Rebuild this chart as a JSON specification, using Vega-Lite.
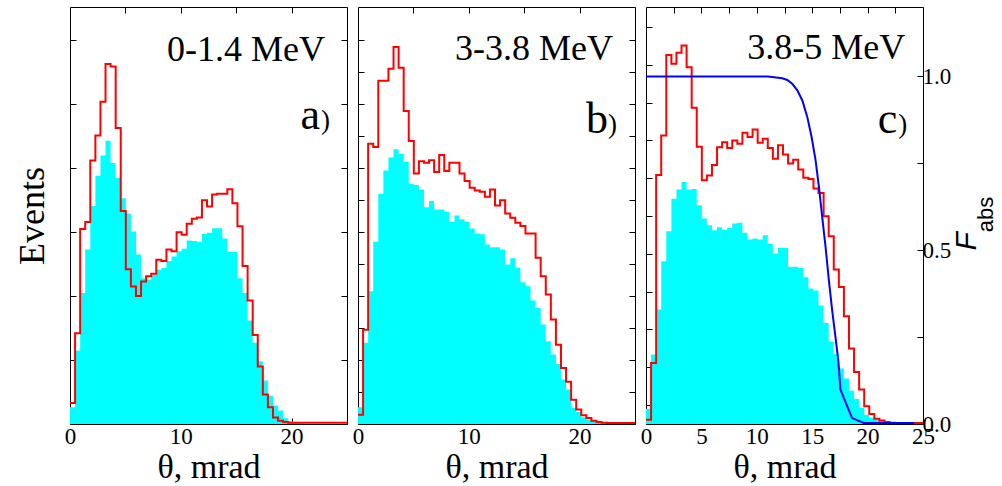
{
  "$schema": "https://vega.github.io/schema/vega-lite/v6.json",
  "padding": {"left": 14, "top": 6, "right": 0, "bottom": 0},
  "background": "white",
  "spacing": 11,
  "bounds": "flush",
  "datasets": {
    "a": [
      {"theta": 0, "cyan": 26, "red": 33}, {"theta": 0.458, "cyan": 115, "red": 142}, {"theta": 0.916, "cyan": 205, "red": 305}, {"theta": 1.374, "cyan": 273, "red": 316},
      {"theta": 1.832, "cyan": 341, "red": 412}, {"theta": 2.29, "cyan": 388, "red": 451}, {"theta": 2.748, "cyan": 420, "red": 504}, {"theta": 3.206, "cyan": 443, "red": 563},
      {"theta": 3.664, "cyan": 408, "red": 559}, {"theta": 4.122, "cyan": 385, "red": 463}, {"theta": 4.58, "cyan": 353, "red": 333}, {"theta": 5.038, "cyan": 329, "red": 242},
      {"theta": 5.496, "cyan": 301, "red": 215}, {"theta": 5.954, "cyan": 265, "red": 200}, {"theta": 6.412, "cyan": 228, "red": 223}, {"theta": 6.87, "cyan": 226, "red": 231},
      {"theta": 7.328, "cyan": 233, "red": 235}, {"theta": 7.786, "cyan": 241, "red": 257}, {"theta": 8.244, "cyan": 244, "red": 255}, {"theta": 8.702, "cyan": 255, "red": 273},
      {"theta": 9.16, "cyan": 262, "red": 270}, {"theta": 9.618, "cyan": 270, "red": 300}, {"theta": 10.076, "cyan": 274, "red": 296}, {"theta": 10.534, "cyan": 287, "red": 313},
      {"theta": 10.992, "cyan": 286, "red": 321}, {"theta": 11.45, "cyan": 285, "red": 323}, {"theta": 11.908, "cyan": 297, "red": 350}, {"theta": 12.366, "cyan": 299, "red": 340},
      {"theta": 12.824, "cyan": 306, "red": 359}, {"theta": 13.282, "cyan": 306, "red": 360}, {"theta": 13.74, "cyan": 290, "red": 360}, {"theta": 14.198, "cyan": 269, "red": 367},
      {"theta": 14.656, "cyan": 269, "red": 345}, {"theta": 15.114, "cyan": 228, "red": 309}, {"theta": 15.572, "cyan": 205, "red": 247}, {"theta": 16.03, "cyan": 162, "red": 193},
      {"theta": 16.488, "cyan": 127, "red": 139}, {"theta": 16.946, "cyan": 98, "red": 90}, {"theta": 17.404, "cyan": 68, "red": 46}, {"theta": 17.862, "cyan": 44, "red": 26},
      {"theta": 18.32, "cyan": 29, "red": 10}, {"theta": 18.778, "cyan": 21, "red": 5}, {"theta": 19.236, "cyan": 9, "red": 3}, {"theta": 19.694, "cyan": 4, "red": 2},
      {"theta": 20.152, "cyan": 2, "red": 2}, {"theta": 20.61, "cyan": 1, "red": 2}, {"theta": 21.068, "cyan": 0, "red": 2}, {"theta": 21.526, "cyan": 0, "red": 2},
      {"theta": 21.984, "cyan": 0, "red": 2}, {"theta": 22.442, "cyan": 0, "red": 2}, {"theta": 22.9, "cyan": 0, "red": 2}, {"theta": 23.358, "cyan": 0, "red": 2},
      {"theta": 23.816, "cyan": 0, "red": 2}, {"theta": 24.274, "cyan": 0, "red": 2}, {"theta": 24.732, "cyan": 0, "red": 2}, {"theta": 25, "cyan": 0, "red": 2}
    ],
    "b": [
      {"theta": 0, "cyan": 52, "red": 29}, {"theta": 0.458, "cyan": 254, "red": 295}, {"theta": 0.916, "cyan": 415, "red": 876}, {"theta": 1.374, "cyan": 570, "red": 866},
      {"theta": 1.832, "cyan": 720, "red": 1073}, {"theta": 2.29, "cyan": 793, "red": 1073}, {"theta": 2.748, "cyan": 833, "red": 1111}, {"theta": 3.206, "cyan": 859, "red": 1179},
      {"theta": 3.664, "cyan": 845, "red": 1114}, {"theta": 4.122, "cyan": 820, "red": 979}, {"theta": 4.58, "cyan": 751, "red": 885}, {"theta": 5.038, "cyan": 747, "red": 783},
      {"theta": 5.496, "cyan": 733, "red": 822}, {"theta": 5.954, "cyan": 678, "red": 817}, {"theta": 6.412, "cyan": 697, "red": 825}, {"theta": 6.87, "cyan": 671, "red": 788},
      {"theta": 7.328, "cyan": 671, "red": 841}, {"theta": 7.786, "cyan": 664, "red": 791}, {"theta": 8.244, "cyan": 632, "red": 817}, {"theta": 8.702, "cyan": 652, "red": 817},
      {"theta": 9.16, "cyan": 640, "red": 783}, {"theta": 9.618, "cyan": 632, "red": 760}, {"theta": 10.076, "cyan": 611, "red": 739}, {"theta": 10.534, "cyan": 596, "red": 730},
      {"theta": 10.992, "cyan": 593, "red": 726}, {"theta": 11.45, "cyan": 561, "red": 711}, {"theta": 11.908, "cyan": 553, "red": 733}, {"theta": 12.366, "cyan": 553, "red": 683},
      {"theta": 12.824, "cyan": 546, "red": 700}, {"theta": 13.282, "cyan": 499, "red": 658}, {"theta": 13.74, "cyan": 518, "red": 645}, {"theta": 14.198, "cyan": 488, "red": 629},
      {"theta": 14.656, "cyan": 443, "red": 619}, {"theta": 15.114, "cyan": 431, "red": 596}, {"theta": 15.572, "cyan": 386, "red": 596}, {"theta": 16.03, "cyan": 363, "red": 520},
      {"theta": 16.488, "cyan": 311, "red": 462}, {"theta": 16.946, "cyan": 259, "red": 405}, {"theta": 17.404, "cyan": 217, "red": 327}, {"theta": 17.862, "cyan": 188, "red": 248},
      {"theta": 18.32, "cyan": 139, "red": 175}, {"theta": 18.778, "cyan": 108, "red": 132}, {"theta": 19.236, "cyan": 50, "red": 76}, {"theta": 19.694, "cyan": 38, "red": 45},
      {"theta": 20.152, "cyan": 21, "red": 27}, {"theta": 20.61, "cyan": 14, "red": 19}, {"theta": 21.068, "cyan": 10, "red": 10}, {"theta": 21.526, "cyan": 8, "red": 6},
      {"theta": 21.984, "cyan": 6, "red": 4}, {"theta": 22.442, "cyan": 6, "red": 3}, {"theta": 22.9, "cyan": 5, "red": 3}, {"theta": 23.358, "cyan": 4, "red": 3},
      {"theta": 23.816, "cyan": 3, "red": 3}, {"theta": 24.274, "cyan": 2, "red": 3}, {"theta": 24.732, "cyan": 0, "red": 3}, {"theta": 25, "cyan": 0, "red": 3}
    ],
    "c": [
      {"theta": 0, "cyan": 81, "red": 23}, {"theta": 0.458, "cyan": 367, "red": 323}, {"theta": 0.916, "cyan": 605, "red": 1316}, {"theta": 1.374, "cyan": 861, "red": 1526},
      {"theta": 1.832, "cyan": 1019, "red": 1951}, {"theta": 2.29, "cyan": 1191, "red": 1905}, {"theta": 2.748, "cyan": 1240, "red": 1963}, {"theta": 3.206, "cyan": 1279, "red": 2002},
      {"theta": 3.664, "cyan": 1240, "red": 1887}, {"theta": 4.122, "cyan": 1243, "red": 1672}, {"theta": 4.58, "cyan": 1157, "red": 1466}, {"theta": 5.038, "cyan": 1086, "red": 1289},
      {"theta": 5.496, "cyan": 1051, "red": 1314}, {"theta": 5.954, "cyan": 1025, "red": 1369}, {"theta": 6.412, "cyan": 1041, "red": 1464}, {"theta": 6.87, "cyan": 1027, "red": 1490},
      {"theta": 7.328, "cyan": 1037, "red": 1460}, {"theta": 7.786, "cyan": 1060, "red": 1499}, {"theta": 8.244, "cyan": 1064, "red": 1482}, {"theta": 8.702, "cyan": 1011, "red": 1540},
      {"theta": 9.16, "cyan": 975, "red": 1517}, {"theta": 9.618, "cyan": 981, "red": 1557}, {"theta": 10.076, "cyan": 975, "red": 1487}, {"theta": 10.534, "cyan": 998, "red": 1508},
      {"theta": 10.992, "cyan": 952, "red": 1460}, {"theta": 11.45, "cyan": 901, "red": 1402}, {"theta": 11.908, "cyan": 931, "red": 1474}, {"theta": 12.366, "cyan": 931, "red": 1425},
      {"theta": 12.824, "cyan": 831, "red": 1377}, {"theta": 13.282, "cyan": 831, "red": 1397}, {"theta": 13.74, "cyan": 825, "red": 1346}, {"theta": 14.198, "cyan": 776, "red": 1302},
      {"theta": 14.656, "cyan": 716, "red": 1296}, {"theta": 15.114, "cyan": 706, "red": 1245}, {"theta": 15.572, "cyan": 626, "red": 1222}, {"theta": 16.03, "cyan": 534, "red": 1099},
      {"theta": 16.488, "cyan": 434, "red": 993}, {"theta": 16.946, "cyan": 370, "red": 817}, {"theta": 17.404, "cyan": 293, "red": 725}, {"theta": 17.862, "cyan": 240, "red": 570},
      {"theta": 18.32, "cyan": 176, "red": 399}, {"theta": 18.778, "cyan": 132, "red": 275}, {"theta": 19.236, "cyan": 85, "red": 182}, {"theta": 19.694, "cyan": 49, "red": 94},
      {"theta": 20.152, "cyan": 32, "red": 53}, {"theta": 20.61, "cyan": 23, "red": 28}, {"theta": 21.068, "cyan": 18, "red": 18}, {"theta": 21.526, "cyan": 14, "red": 11},
      {"theta": 21.984, "cyan": 11, "red": 7}, {"theta": 22.442, "cyan": 9, "red": 5}, {"theta": 22.9, "cyan": 7, "red": 5}, {"theta": 23.358, "cyan": 5, "red": 5},
      {"theta": 23.816, "cyan": 3, "red": 5}, {"theta": 24.274, "cyan": 2, "red": 5}, {"theta": 24.732, "cyan": 0, "red": 5}, {"theta": 25, "cyan": 0, "red": 5}
    ],
    "blue": [
      {"theta": 0, "F": 1.0}, {"theta": 11.0, "F": 1.0}, {"theta": 12.3, "F": 0.995}, {"theta": 12.75, "F": 0.99}, {"theta": 13.2, "F": 0.979},
      {"theta": 13.66, "F": 0.96}, {"theta": 14.11, "F": 0.931}, {"theta": 14.56, "F": 0.883}, {"theta": 14.95, "F": 0.825}, {"theta": 15.31, "F": 0.758},
      {"theta": 15.61, "F": 0.681}, {"theta": 15.91, "F": 0.594}, {"theta": 16.21, "F": 0.508}, {"theta": 16.51, "F": 0.412}, {"theta": 16.81, "F": 0.325},
      {"theta": 17.11, "F": 0.248}, {"theta": 17.36, "F": 0.181}, {"theta": 17.55, "F": 0.099}, {"theta": 18.1, "F": 0.056}, {"theta": 18.6, "F": 0.017},
      {"theta": 19.65, "F": 0.003}, {"theta": 24.2, "F": 0.003}
    ]
  },
  "hconcat": [
    {
      "width": 277, "height": 417,
      "layer": [
        {"data": {"name": "a"},
         "mark": {"type": "area", "interpolate": "step-after", "color": "#00ffff", "opacity": 1, "clip": true},
         "encoding": {
           "x": {"field": "theta", "type": "quantitative", "scale": {"domain": [0, 25], "nice": false, "zero": false},
                 "axis": {"orient": "bottom", "values": [0, 5, 10, 15, 20, 25], "labelExpr": "datum.value % 10 == 0 && datum.value < 25 ? datum.label : ''", "title": "θ, mrad", "labelPadding": 7, "titlePadding": 2}},
           "y": {"field": "cyan", "type": "quantitative", "scale": {"domain": [0, 652], "nice": false},
                 "axis": {"orient": "left", "values": [100, 200, 300, 400, 500, 600], "labels": false, "title": "Events", "titleFontSize": 36, "titlePadding": 18}}
         }},
        {"data": {"name": "a"},
         "mark": {"type": "line", "interpolate": "step-after", "color": "#ff0000", "strokeWidth": 2, "clip": true},
         "encoding": {
           "x": {"field": "theta", "type": "quantitative", "scale": {"domain": [0, 25], "nice": false, "zero": false},
                 "axis": {"orient": "top", "values": [5, 10, 15, 20], "labels": false, "title": null}},
           "y": {"field": "red", "type": "quantitative", "scale": {"domain": [0, 652], "nice": false},
                 "axis": {"orient": "right", "values": [100, 200, 300, 400, 500, 600], "labels": false, "title": null}}
         }},
        {"data": {"values": [{}]},
         "mark": {"type": "text", "align": "right", "baseline": "alphabetic", "font": "Liberation Serif", "fontSize": 36, "color": "#000"},
         "encoding": {"x": {"datum": 23.01, "type": "quantitative", "axis": null}, "y": {"datum": 567, "type": "quantitative", "axis": null}, "text": {"value": "0-1.4 MeV"}}},
        {"data": {"values": [{}]},
         "mark": {"type": "text", "align": "right", "baseline": "alphabetic", "font": "Liberation Serif", "fontSize": 44, "color": "#000"},
         "encoding": {"x": {"datum": 22.56, "type": "quantitative", "axis": null}, "y": {"datum": 461, "type": "quantitative", "axis": null}, "text": {"value": "a"}}},
        {"data": {"values": [{}]},
         "mark": {"type": "text", "align": "right", "baseline": "alphabetic", "font": "Liberation Serif", "fontSize": 27, "color": "#000"},
         "encoding": {"x": {"datum": 23.47, "type": "quantitative", "axis": null}, "y": {"datum": 461, "type": "quantitative", "axis": null}, "text": {"value": ")"}}}
      ],
      "resolve": {"axis": {"x": "independent", "y": "independent"}}
    },
    {
      "width": 277, "height": 417,
      "layer": [
        {"data": {"name": "b"},
         "mark": {"type": "area", "interpolate": "step-after", "color": "#00ffff", "opacity": 1, "clip": true},
         "encoding": {
           "x": {"field": "theta", "type": "quantitative", "scale": {"domain": [0, 25], "nice": false, "zero": false},
                 "axis": {"orient": "bottom", "values": [0, 5, 10, 15, 20, 25], "labelExpr": "datum.value % 10 == 0 && datum.value < 25 ? datum.label : ''", "title": "θ, mrad", "labelPadding": 7, "titlePadding": 2}},
           "y": {"field": "cyan", "type": "quantitative", "scale": {"domain": [0, 1304], "nice": false},
                 "axis": {"orient": "left", "values": [100, 200, 300, 400, 500, 600, 700, 800, 900, 1000, 1100, 1200], "labels": false, "title": null}}
         }},
        {"data": {"name": "b"},
         "mark": {"type": "line", "interpolate": "step-after", "color": "#ff0000", "strokeWidth": 2, "clip": true},
         "encoding": {
           "x": {"field": "theta", "type": "quantitative", "scale": {"domain": [0, 25], "nice": false, "zero": false},
                 "axis": {"orient": "top", "values": [5, 10, 15, 20], "labels": false, "title": null}},
           "y": {"field": "red", "type": "quantitative", "scale": {"domain": [0, 1304], "nice": false},
                 "axis": {"orient": "right", "values": [100, 200, 300, 400, 500, 600, 700, 800, 900, 1000, 1100, 1200], "labels": false, "title": null}}
         }},
        {"data": {"values": [{}]},
         "mark": {"type": "text", "align": "right", "baseline": "alphabetic", "font": "Liberation Serif", "fontSize": 36, "color": "#000"},
         "encoding": {"x": {"datum": 23.01, "type": "quantitative", "axis": null}, "y": {"datum": 1139, "type": "quantitative", "axis": null}, "text": {"value": "3-3.8 MeV"}}},
        {"data": {"values": [{}]},
         "mark": {"type": "text", "align": "right", "baseline": "alphabetic", "font": "Liberation Serif", "fontSize": 44, "color": "#000"},
         "encoding": {"x": {"datum": 22.56, "type": "quantitative", "axis": null}, "y": {"datum": 909, "type": "quantitative", "axis": null}, "text": {"value": "b"}}},
        {"data": {"values": [{}]},
         "mark": {"type": "text", "align": "right", "baseline": "alphabetic", "font": "Liberation Serif", "fontSize": 27, "color": "#000"},
         "encoding": {"x": {"datum": 23.38, "type": "quantitative", "axis": null}, "y": {"datum": 909, "type": "quantitative", "axis": null}, "text": {"value": ")"}}}
      ],
      "resolve": {"axis": {"x": "independent", "y": "independent"}}
    },
    {
      "width": 277, "height": 417,
      "layer": [
        {"layer": [
          {"data": {"name": "c"},
           "mark": {"type": "area", "interpolate": "step-after", "color": "#00ffff", "opacity": 1, "clip": true},
           "encoding": {
             "x": {"field": "theta", "type": "quantitative", "scale": {"domain": [0, 25], "nice": false, "zero": false},
                   "axis": {"orient": "bottom", "values": [0, 5, 10, 15, 20, 25], "title": "θ, mrad", "labelPadding": 7, "titlePadding": 2}},
             "y": {"field": "cyan", "type": "quantitative", "scale": {"domain": [0, 2205], "nice": false},
                   "axis": {"orient": "left", "values": [100, 200, 300, 400, 500, 600, 700, 800, 900, 1000, 1100, 1200, 1300, 1400, 1500, 1600, 1700, 1800, 1900, 2000, 2100], "labels": false, "title": null}}
           }},
          {"data": {"name": "c"},
           "mark": {"type": "line", "interpolate": "step-after", "color": "#ff0000", "strokeWidth": 2, "clip": true},
           "encoding": {
             "x": {"field": "theta", "type": "quantitative", "scale": {"domain": [0, 25], "nice": false, "zero": false}},
             "y": {"field": "red", "type": "quantitative", "scale": {"domain": [0, 2205], "nice": false}}
           }}
        ]},
        {"data": {"name": "blue"},
         "mark": {"type": "line", "color": "#0000ff", "strokeWidth": 2, "clip": true},
         "encoding": {
           "x": {"field": "theta", "type": "quantitative", "scale": {"domain": [0, 25], "nice": false, "zero": false},
                 "axis": {"orient": "top", "values": [2.5, 5, 7.5, 10, 12.5, 15, 17.5, 20, 22.5], "labels": false, "title": null}},
           "y": {"field": "F", "type": "quantitative", "scale": {"domain": [0, 1.2], "nice": false},
                 "axis": {"orient": "right", "values": [0, 0.25, 0.5, 0.75, 1.0], "labelExpr": "datum.value == 0 || datum.value == 0.5 || datum.value == 1 ? format(datum.value, '.1f') : ''", "labelPadding": 5, "title": null}}
         }},
        {"data": {"values": [{}]},
         "mark": {"type": "text", "align": "right", "baseline": "alphabetic", "font": "Liberation Serif", "fontSize": 36, "color": "#000"},
         "encoding": {"x": {"datum": 23.39, "type": "quantitative", "axis": null}, "y": {"datum": 1.051, "type": "quantitative", "scale": {"domain": [0, 1.2], "nice": false}, "axis": null}, "text": {"value": "3.8-5 MeV"}}},
        {"data": {"values": [{}]},
         "mark": {"type": "text", "align": "right", "baseline": "alphabetic", "font": "Liberation Serif", "fontSize": 44, "color": "#000"},
         "encoding": {"x": {"datum": 22.68, "type": "quantitative", "axis": null}, "y": {"datum": 0.8385, "type": "quantitative", "scale": {"domain": [0, 1.2], "nice": false}, "axis": null}, "text": {"value": "c"}}},
        {"data": {"values": [{}]},
         "mark": {"type": "text", "align": "right", "baseline": "alphabetic", "font": "Liberation Serif", "fontSize": 27, "color": "#000"},
         "encoding": {"x": {"datum": 23.58, "type": "quantitative", "axis": null}, "y": {"datum": 0.8385, "type": "quantitative", "scale": {"domain": [0, 1.2], "nice": false}, "axis": null}, "text": {"value": ")"}}},
        {"data": {"values": [{}]},
         "mark": {"type": "text", "align": "center", "baseline": "alphabetic", "angle": 270, "font": "Liberation Sans", "fontStyle": "italic", "fontSize": 30, "color": "#000"},
         "encoding": {"x": {"datum": 29.8, "type": "quantitative", "axis": null}, "y": {"datum": 0.5255, "type": "quantitative", "scale": {"domain": [0, 1.2], "nice": false}, "axis": null}, "text": {"value": "F"}}},
        {"data": {"values": [{}]},
         "mark": {"type": "text", "align": "center", "baseline": "alphabetic", "angle": 270, "font": "Liberation Sans", "fontSize": 22, "color": "#000"},
         "encoding": {"x": {"datum": 31.3, "type": "quantitative", "axis": null}, "y": {"datum": 0.603, "type": "quantitative", "scale": {"domain": [0, 1.2], "nice": false}, "axis": null}, "text": {"value": "abs"}}}
      ],
      "resolve": {"scale": {"y": "independent"}, "axis": {"x": "independent", "y": "independent"}}
    }
  ],
  "config": {
    "view": {"stroke": "#000", "strokeWidth": 1},
    "axis": {
      "domain": false, "grid": false, "ticks": true, "tickColor": "#000", "tickSize": -6, "tickWidth": 1,
      "labelFont": "Liberation Serif", "labelFontSize": 23, "labelColor": "#000", "labelFlush": false, "labelOverlap": false,
      "titleFont": "Liberation Serif", "titleFontSize": 34, "titleFontWeight": "normal", "titleColor": "#000"
    }
  }
}
